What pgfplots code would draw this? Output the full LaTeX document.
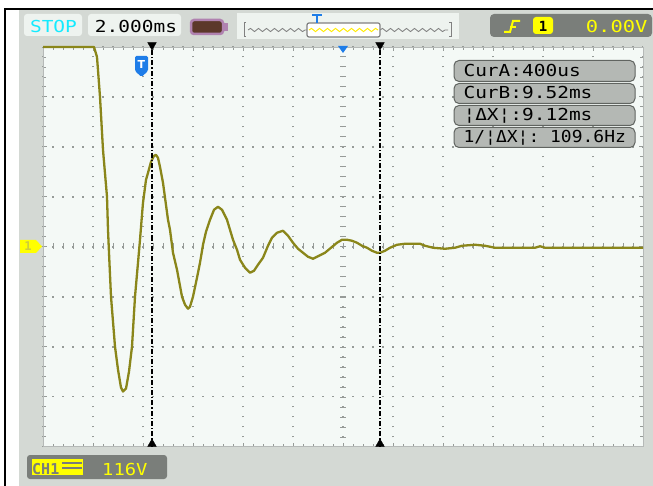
\documentclass[border=0pt]{standalone}
\usepackage{pgfplots}
\pgfplotsset{compat=1.18}
\usepackage{fontspec}
\setmonofont{DejaVu Sans Mono}
\setsansfont{DejaVu Sans}
\usepackage{graphicx}
\usetikzlibrary{decorations.pathmorphing}
\definecolor{panel}{RGB}{212,217,212}
\definecolor{gratbg}{RGB}{244,249,246}
\definecolor{wave}{RGB}{138,134,26}
\definecolor{cyantxt}{RGB}{20,235,255}
\definecolor{darkbox}{RGB}{122,126,122}
\definecolor{ylw}{RGB}{255,255,0}
\definecolor{readbox}{RGB}{180,184,180}
\definecolor{readedge}{RGB}{96,100,96}
\definecolor{tblue}{RGB}{30,125,232}
\definecolor{lightbox}{RGB}{238,243,239}
\definecolor{batedge}{RGB}{176,130,176}
\definecolor{batfill}{RGB}{92,56,42}
\definecolor{gridc}{RGB}{150,155,152}
\newcommand{\scr}[2][1.18]{\scalebox{#1}[1]{\ttfamily\fontsize{16.5}{16.5}\selectfont #2}}
\begin{document}
\begin{tikzpicture}
\useasboundingbox (0,0) rectangle (653pt,-486pt);
\begin{scope}[x=1pt,y=-1pt]
  \fill[white] (0,0) rectangle (653,486);
  \fill[panel] (19,10) rectangle (653,486);
  \fill[black] (4,8) rectangle (653,10);
  \fill[black] (4,8) rectangle (6,486);
  \fill[gratbg] (43,47) rectangle (643,446.5);
  % centre-line ticks
  \foreach \i in {1,...,59} {\draw[gridc, line width=1pt] ({43+\i*10},243.5) -- ({43+\i*10},249.5);}
  \foreach \i in {1,...,39} {\draw[gridc, line width=1pt] (340,{47+\i*10}) -- (346,{47+\i*10});}
\end{scope}
\begin{axis}[
  at={(43pt,-446.5pt)}, anchor=south west,
  scale only axis, width=600pt, height=399.5pt,
  xmin=-4, xmax=20, ymin=-4, ymax=4,
  xtick={-4,-2,...,20}, ytick={-4,-3,...,4},
  minor x tick num=4, minor y tick num=4,
  xticklabels={}, yticklabels={},
  tick align=inside, major tick length=4pt, minor tick length=3pt,
  tick style={color=gridc, line width=0.9pt},
  grid=major,
  major grid style={color=gridc, line width=1.8pt, dash pattern=on 1.8pt off 8.2pt, dash phase=0.9pt},
  axis line style={color=gridc!70, line width=0.8pt},
  clip=false,
]
\addplot[wave, line width=2.3pt, line join=round] coordinates {
(-4,4) (-1.96,4) (-1.84,3.8) (-1.72,3.0) (-1.6,1.94) (-1.44,1.0) (-1.4,0.34) (-1.36,-0.12)
(-1.28,-1.0) (-1.12,-2.0) (-1.0,-2.46) (-0.88,-2.82) (-0.8,-2.9) (-0.68,-2.84) (-0.56,-2.5)
(-0.44,-2.0) (-0.32,-1.0) (-0.2,-0.32) (-0.12,0.14) (-0.04,0.64) (0,0.88) (0.12,1.34)
(0.2,1.48) (0.32,1.7) (0.44,1.82) (0.52,1.84) (0.6,1.78) (0.68,1.6) (0.8,1.28) (1.0,0.54)
(1.08,0.34) (1.2,-0.12) (1.36,-0.46) (1.56,-1.0) (1.68,-1.16) (1.8,-1.24) (1.88,-1.2)
(2.0,-1.0) (2.16,-0.62) (2.28,-0.32) (2.4,0.04) (2.52,0.3) (2.68,0.54) (2.84,0.74) (3.0,0.8)
(3.16,0.74) (3.36,0.54) (3.48,0.34) (3.6,0.14) (3.76,-0.06) (3.88,-0.26) (4.08,-0.42)
(4.28,-0.52) (4.44,-0.48) (4.6,-0.36) (4.8,-0.22) (5.0,0.02) (5.16,0.18) (5.36,0.28)
(5.6,0.32) (5.8,0.22) (6.0,0.08) (6.2,-0.04) (6.4,-0.12) (6.6,-0.2) (6.8,-0.24) (7.04,-0.18)
(7.28,-0.12) (7.52,-0.02) (7.76,0.08) (7.96,0.14) (8.16,0.14) (8.36,0.12) (8.56,0.08)
(8.76,0.02) (8.96,-0.02) (9.16,-0.08) (9.36,-0.12) (9.48,-0.12) (9.68,-0.08) (9.88,-0.02)
(10.16,0.04) (10.48,0.06) (11.08,0.06) (11.28,0.02) (11.6,-0.02) (12.08,-0.04) (12.48,-0.02)
(12.76,0.02) (13.28,0.04) (13.68,0.02) (14.08,-0.02) (15.68,-0.02) (15.88,0.01) (16.08,-0.02)
(20,-0.02)
};
\addplot[black, line width=1.3pt, dash pattern=on 5pt off 2pt on 1.3pt off 2pt] coordinates {(0.36,-4) (0.36,4)};
\addplot[black, line width=1.3pt, dash pattern=on 5pt off 2pt on 1.3pt off 2pt] coordinates {(9.48,-4) (9.48,4)};
\addplot[only marks, mark=triangle*, mark size=5pt, black, mark options={rotate=180, yshift=-2pt}] coordinates {(0.36,4) (9.48,4)};
\addplot[only marks, mark=triangle*, mark size=5pt, black, mark options={yshift=2.5pt}] coordinates {(0.36,-4) (9.48,-4)};
\end{axis}
\begin{scope}[x=1pt,y=-1pt]
  % trigger T marker
  \fill[tblue, rounded corners=1.5pt] (135,56) -- (148,56) -- (148,71) -- (141.5,77) -- (135,71) -- cycle;
  \node[white, font=\sffamily\bfseries\fontsize{11}{11}\selectfont, anchor=base] at (141.5,69) {T};
  % trigger position marker
  \fill[tblue] (338,46) -- (348,46) -- (343,53) -- cycle;
  % channel marker
  \fill[ylw] (20,240) -- (36,240) -- (42,246.5) -- (36,253) -- (20,253) -- cycle;
  \node[color={rgb,255:red,205;green,205;blue,60}, font=\ttfamily\bfseries\fontsize{12}{12}\selectfont, anchor=base] at (28,251) {1};
  % top bar
  \fill[lightbox, rounded corners=3pt] (24,14) rectangle (82,36);
  \node[cyantxt, anchor=base] at (53.5,33) {\scr{STOP}};
  \fill[lightbox, rounded corners=3pt] (88,14) rectangle (181,36);
  \node[black, anchor=base] at (136,33) {\scr{2.000ms}};
  \fill[batfill, draw=batedge, line width=2.5pt, rounded corners=3pt] (191,20) rectangle (223,34);
  \fill[batedge] (223,23) rectangle (228,31);
  \fill[lightbox] (237,13) rectangle (459,39);
  \draw[gray, line width=1pt] (246,23) -- (244,23) -- (244,37) -- (246,37);
  \draw[gray, line width=1pt] (449,23) -- (451,23) -- (451,37) -- (449,37);
  \draw[gray, line width=0.8pt, decorate, decoration={snake, amplitude=1.6pt, segment length=8pt}] (248,30) -- (307,30);
  \draw[gray, line width=0.8pt, decorate, decoration={snake, amplitude=1.6pt, segment length=8pt}] (380,30) -- (448,30);
  \filldraw[fill=white, draw=gray, line width=1.2pt, rounded corners=2pt] (307,23) rectangle (380,37);
  \draw[ylw!85!orange, line width=1pt, decorate, decoration={snake, amplitude=1.6pt, segment length=8pt}] (309,30) -- (378,30);
  \draw[tblue, line width=1.8pt] (312,15) -- (322,15);
  \draw[tblue, line width=1.8pt] (317,15) -- (317,23);
  % trigger box
  \fill[darkbox, rounded corners=4pt] (490,14) rectangle (652,37);
  \draw[ylw, line width=2pt] (504,32) -- (510,32) -- (513,21) -- (520,21);
  \draw[ylw, line width=1.5pt] (510,27) -- (516,27);
  \fill[ylw, rounded corners=3pt] (533,17) rectangle (553,34);
  \node[black, anchor=base] at (543,31.5) {\ttfamily\bfseries\fontsize{14}{14}\selectfont 1};
  \node[ylw, anchor=base east] at (651,33) {\scr[1.24]{0.00V}};
  % readouts
  \foreach \ya/\yb in {60/82, 83/104, 105/126, 127/148} {
    \filldraw[fill=readbox, draw=readedge, line width=1pt, rounded corners=5pt] (454,\ya+0.5) rectangle (635,\yb-0.5);
  }
  \node[black, anchor=base west] at (460,77) {\scr{CurA:400us}};
  \node[black, anchor=base west] at (460,99) {\scr{CurB:9.52ms}};
  \node[black, anchor=base west] at (460,120.5) {\scr{¦ΔX¦:9.12ms}};
  \node[black, anchor=base west] at (460,142.5) {\scr[1.09]{1/¦ΔX¦: 109.6Hz}};
  % CH1 box
  \fill[darkbox, rounded corners=3pt] (27,455) rectangle (167,479);
  \fill[ylw] (32,459) rectangle (83,475);
  \node[darkbox, anchor=base west, inner sep=0pt] at (32,474) {\ttfamily\bfseries\fontsize{15}{15}\selectfont CH1};
  \draw[darkbox, line width=1.6pt] (62,463) -- (82,463);
  \draw[darkbox, line width=1.6pt] (62,468) -- (82,468);
  \node[ylw, anchor=base west, inner sep=0pt] at (102,475) {\scr[1.14]{116V}};
\end{scope}
\end{tikzpicture}
\end{document}
